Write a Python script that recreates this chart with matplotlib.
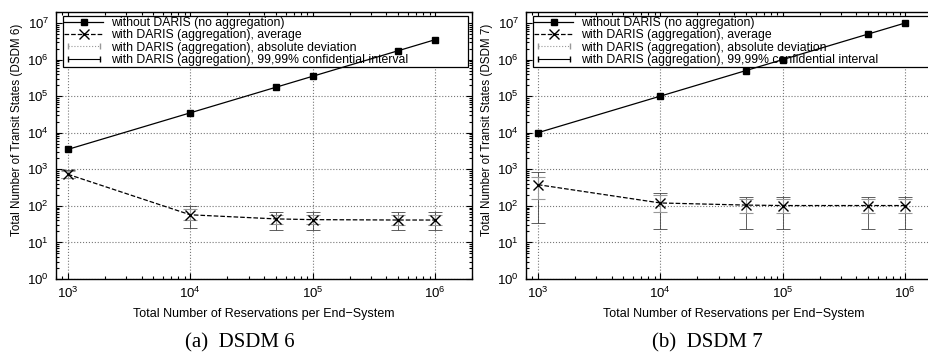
import matplotlib
matplotlib.use("Agg")
import matplotlib.pyplot as plt
from matplotlib.lines import Line2D
from matplotlib.legend_handler import HandlerLine2D
from matplotlib.ticker import LogLocator, NullFormatter

plt.rcParams['font.family'] = ['Liberation Sans', 'DejaVu Sans']
plt.rcParams['mathtext.fontset'] = 'custom'
plt.rcParams['mathtext.rm'] = 'Liberation Sans'
plt.rcParams['mathtext.it'] = 'Liberation Sans:italic'
plt.rcParams['font.size'] = 8

# data
reservations = [1e3, 1e4, 5e4, 1e5, 5e5, 1e6]

dsdm6_without = [3500, 35000, 175000, 350000, 1750000, 3500000]
dsdm6_avg = [730, 57, 44, 42, 41, 41]
dsdm6_dev_lo = [560, 40, 32, 31, 30, 30]
dsdm6_dev_hi = [900, 80, 58, 56, 55, 55]
dsdm6_ci_lo = [560, 25, 22, 22, 22, 22]
dsdm6_ci_hi = [950, 100, 70, 70, 70, 70]

dsdm7_without = [1e4, 1e5, 5e5, 1e6, 5e6, 1e7]
dsdm7_avg = [380, 120, 105, 102, 102, 102]
dsdm7_dev_lo = [150, 70, 65, 65, 65, 65]
dsdm7_dev_hi = [600, 200, 150, 150, 150, 150]
dsdm7_ci_lo = [35, 24, 23, 23, 23, 23]
dsdm7_ci_hi = [850, 230, 175, 175, 175, 175]

labels = ['without DARIS (no aggregation)',
          'with DARIS (aggregation), average',
          'with DARIS (aggregation), absolute deviation',
          'with DARIS (aggregation), 99,99% confidential interval']

panels = [
    ('Total Number of Transit States (DSDM 6)', '(a)  DSDM 6',
     dsdm6_without, dsdm6_avg, dsdm6_dev_lo, dsdm6_dev_hi, dsdm6_ci_lo, dsdm6_ci_hi),
    ('Total Number of Transit States (DSDM 7)', '(b)  DSDM 7',
     dsdm7_without, dsdm7_avg, dsdm7_dev_lo, dsdm7_dev_hi, dsdm7_ci_lo, dsdm7_ci_hi),
]

fig = plt.figure(figsize=(9.29, 3.53), dpi=100)
axes = [fig.add_axes([56 / 929, 74 / 353, 416 / 929, 267 / 353]),
        fig.add_axes([526 / 929, 74 / 353, 416 / 929, 267 / 353])]
caption_x = [240 / 929, 707 / 929]

for ax, (ylab, cap, without, avg, dlo, dhi, clo, chi), cx in zip(axes, panels, caption_x):
    ci_err = [[a - l for a, l in zip(avg, clo)], [h - a for a, h in zip(avg, chi)]]
    dev_err = [[a - l for a, l in zip(avg, dlo)], [h - a for a, h in zip(avg, dhi)]]
    ax.errorbar(reservations, avg, yerr=ci_err, fmt='none', ecolor='#444444',
                elinewidth=0.6, capsize=5, capthick=0.6, zorder=3)
    ax.errorbar(reservations, avg, yerr=dev_err, fmt='none', ecolor='#999999',
                elinewidth=0.8, capsize=5, capthick=0.8, ls=':', zorder=3)
    ax.plot(reservations, avg, color='black', ls='--', lw=0.9, marker='x',
            ms=6.5, mew=1.0, zorder=4)
    ax.plot(reservations, without, color='black', ls='-', lw=0.9, marker='s',
            ms=4.5, zorder=4)

    ax.set_xscale('log')
    ax.set_yscale('log')
    ax.set_xlim(800, 2e6)
    ax.set_ylim(1, 2e7)
    ax.set_xticks([1e3, 1e4, 1e5, 1e6])
    ax.set_yticks([1e0, 1e1, 1e2, 1e3, 1e4, 1e5, 1e6, 1e7])
    ax.xaxis.set_minor_locator(LogLocator(base=10, subs=range(2, 10), numticks=20))
    ax.yaxis.set_minor_locator(LogLocator(base=10, subs=range(2, 10), numticks=20))
    ax.xaxis.set_minor_formatter(NullFormatter())
    ax.yaxis.set_minor_formatter(NullFormatter())
    ax.tick_params(which='both', direction='in', top=True, right=True, width=0.8)
    ax.tick_params(which='major', length=4, labelsize=9.5, pad=5)
    ax.tick_params(which='minor', length=2)
    ax.grid(True, which='major', ls=':', color='#777777', lw=0.8)
    for s in ax.spines.values():
        s.set_linewidth(1.0)

    ax.set_xlabel('Total Number of Reservations per End\u2212System', fontsize=9, labelpad=5)
    ax.set_ylabel(ylab, fontsize=8.4, labelpad=4)
    ax.yaxis.set_label_coords(-0.08, 0.56)

    handles = [
        Line2D([], [], color='black', ls='-', lw=0.9, marker='s', ms=4.5),
        Line2D([], [], color='black', ls='--', lw=0.9, marker='x', ms=6.5),
        Line2D([], [], color='#999999', ls=':', lw=0.8, marker='|', ms=5),
        Line2D([], [], color='black', ls='-', lw=0.8, marker='|', ms=5),
    ]
    leg = ax.legend(handles, labels, loc='upper left',
                    bbox_to_anchor=(0.017, 0.79, 0.974, 0.195), mode='expand',
                    borderaxespad=0, fancybox=False, framealpha=1, edgecolor='black',
                    fontsize=8.8, handlelength=3.2, labelspacing=0.02, borderpad=0.1,
                    handletextpad=0.6,
                    handler_map={handles[2]: HandlerLine2D(numpoints=2),
                                 handles[3]: HandlerLine2D(numpoints=2)})
    leg.get_frame().set_linewidth(0.9)
    # data lines are drawn over the legend box, as in the original
    leg.set_zorder(2.5)

    fig.text(cx, 10 / 353, cap, ha='center', va='center', fontsize=15,
             family=['Liberation Serif', 'DejaVu Serif'])

fig.savefig('out.png', dpi=100)
